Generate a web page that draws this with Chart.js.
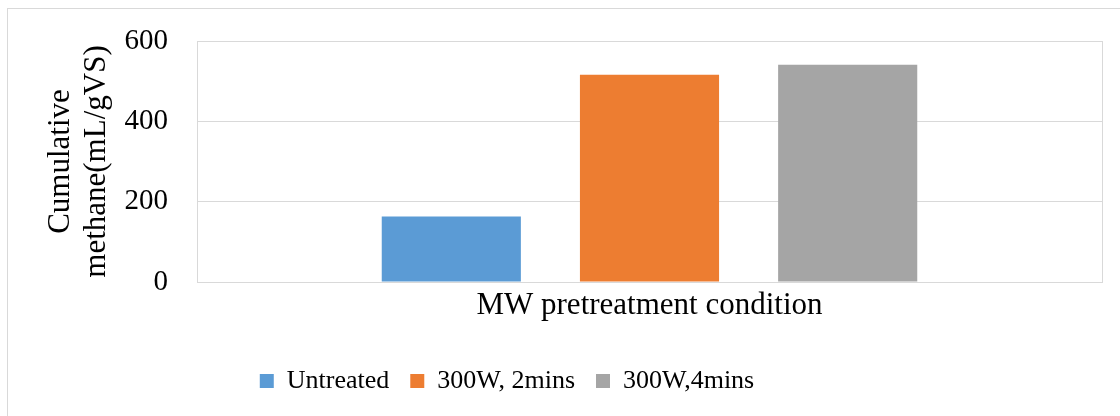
<!DOCTYPE html>
<html>
<head>
<meta charset="utf-8">
<script src="https://cdn.jsdelivr.net/npm/chart.js@4"></script>
<style>
  html, body { margin: 0; padding: 0; background: #fff; }
  #wrap { width: 1120px; height: 416px; }
</style>
</head>
<body>
<div id="wrap"><canvas id="myChart" width="1120" height="416"></canvas></div>
<script>
// data
var categories = ['MW pretreatment condition'];
var seriesNames = ['Untreated', '300W, 2mins', '300W,4mins'];
var untreated = [163];
var w300min2 = [516];
var w300min4 = [541];
var yTicks = [0, 200, 400, 600];

var colors = ['#5b9bd5', '#ed7d31', '#a5a5a5'];
var grid = '#d9d9d9';
var serif = "'Liberation Serif', 'Times New Roman', serif";

// light frame round the whole chart, cut off at right and bottom like the source
var framePlugin = {
  id: 'frame',
  beforeDraw: function (chart) {
    var ctx = chart.ctx;
    ctx.save();
    ctx.strokeStyle = grid;
    ctx.lineWidth = 1;
    ctx.strokeRect(7.5, 8.5, 2000, 2000);
    ctx.restore();
  }
};

// legend sits a bit left of centre in the source
var legendShift = {
  id: 'legendShift',
  afterLayout: function (chart) {
    chart.legend.left -= 44;
    chart.legend.right -= 44;
  }
};

var ctx = document.getElementById('myChart').getContext('2d');
var chart = new Chart(ctx, {
  type: 'bar',
  data: {
    labels: categories,
    datasets: [
      { label: seriesNames[0], data: untreated, backgroundColor: colors[0] },
      { label: seriesNames[1], data: w300min2, backgroundColor: colors[1] },
      { label: seriesNames[2], data: w300min4, backgroundColor: colors[2] }
    ]
  },
  options: {
    responsive: false,
    animation: false,
    devicePixelRatio: 1,
    categoryPercentage: 0.657,
    barPercentage: 0.702,
    layout: { padding: { top: 41, right: 18, bottom: 12, left: 0 } },
    scales: {
      x: {
        grid: { color: grid, drawTicks: false },
        border: { color: grid },
        ticks: { color: '#000', padding: 5, font: { family: serif, size: 31 } },
        afterFit: function (scale) { scale.height = 65; }
      },
      y: {
        min: 0,
        max: 600,
        afterBuildTicks: function (scale) {
          scale.ticks = yTicks.map(function (v) { return { value: v }; });
        },
        grid: { color: grid, drawTicks: false },
        border: { color: grid },
        // small lineHeight keeps the label padding from pushing the plot down
        ticks: { color: '#000', padding: 29, font: { family: serif, size: 29, lineHeight: 0.4 } },
        title: {
          display: true,
          text: ['Cumulative', 'methane(mL/gVS)'],
          color: '#000',
          padding: { top: 43, bottom: 0 },
          font: { family: serif, size: 31, lineHeight: 1.16 }
        },
        afterFit: function (scale) { scale.width = 197; }
      }
    },
    plugins: {
      legend: {
        position: 'bottom',
        labels: {
          boxWidth: 14,
          boxHeight: 14,
          padding: 21,
          color: '#000',
          font: { family: serif, size: 26 }
        }
      },
      tooltip: { enabled: false },
      title: { display: false }
    }
  },
  plugins: [framePlugin, legendShift]
});
</script>
</body>
</html>
